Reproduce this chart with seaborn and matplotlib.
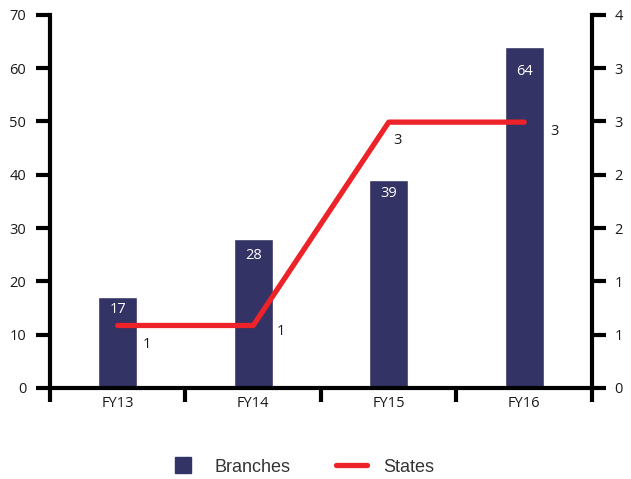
import matplotlib
matplotlib.use("Agg")
import matplotlib.pyplot as plt
from matplotlib.lines import Line2D
import numpy as np
import pandas as pd
import seaborn as sb

years = ["FY13", "FY14", "FY15", "FY16"]
branches = [17, 28, 39, 64]
states = [0.67, 0.67, 2.85, 2.85]
state_labels = ["1", "1", "3", "3"]
right_ticks = np.linspace(0, 4, 8)

df = pd.DataFrame({"year": years, "branches": branches, "states": states})

sb.set_theme(style="white")
plt.rcParams["font.family"] = ["Open Sans", "DejaVu Sans"]

navy = "#333366"
red = "#ee2229"

fig = plt.figure(figsize=(6.31, 4.79), dpi=100)
ax = fig.add_axes([0.0792, 0.19, 0.859, 0.779])
sb.barplot(data=df, x="year", y="branches", color=navy, width=0.29,
           saturation=1, ax=ax)
ax.set_xlim(-0.5, 3.5)
ax.set_ylim(0, 70)
ax.set_yticks(range(0, 71, 10))
ax.set_xlabel("")
ax.set_ylabel("")

# bar value labels
bar_off = [-9, -12, -10, -18]
for i, v in enumerate(branches):
    ax.annotate(str(v), (i, v), xytext=(0, bar_off[i]), textcoords="offset points",
                ha="center", va="center", color="white", fontsize=10.5)

# x ticks between categories, labels at centres
ax.set_xticks([-0.5, 0.5, 1.5, 2.5, 3.5])
ax.set_xticklabels([])
ax.set_xticks(range(len(years)), minor=True)
ax.set_xticklabels(years, minor=True)
ax.tick_params(axis="x", which="major", direction="out", length=10, width=3,
               color="black", bottom=True)
ax.tick_params(axis="x", which="minor", length=0, pad=6, labelsize=10.5,
               labelcolor="#1a1a1a")
ax.tick_params(axis="y", direction="out", length=10, width=3, color="black",
               left=True, labelsize=10.5, labelcolor="#1a1a1a", pad=7)

ax2 = ax.twinx()
sb.lineplot(data=df, x="year", y="states", color=red, linewidth=3.8,
            ax=ax2, legend=False)
ax2.set_ylim(0, 4)
ax2.set_yticks(right_ticks)
ax2.set_yticklabels([f"{t:.0f}" for t in right_ticks])
ax2.set_ylabel("")
ax2.tick_params(axis="y", direction="out", length=10, width=3, color="black",
                right=True, labelsize=10.5, labelcolor="#1a1a1a", pad=6)

label_off = [(21, -14), (20, -4), (6, -13), (22, -7)]
for i, (v, t) in enumerate(zip(states, state_labels)):
    ax2.annotate(t, (i, v), xytext=label_off[i], textcoords="offset points",
                 ha="center", va="center", color="#1a1a1a", fontsize=10.5)

for a in (ax, ax2):
    for s in a.spines.values():
        s.set_visible(False)
        s.set_linewidth(3)
        s.set_color("black")
ax.spines["left"].set_visible(True)
ax.spines["bottom"].set_visible(True)
ax2.spines["right"].set_visible(True)

handles = [Line2D([0], [0], color=navy, marker="s", markersize=11, linestyle="none"),
           Line2D([0], [0], color=red, linewidth=3.8)]
fig.legend(handles, ["Branches", "States"], loc="center",
           bbox_to_anchor=(0.477, 0.025), ncol=2, frameon=False,
           prop={"family": "Liberation Sans", "size": 13},
           handlelength=1.7, columnspacing=2.5,
           handletextpad=0.9, labelcolor="#333333")

plt.savefig("out.png", dpi=100)
